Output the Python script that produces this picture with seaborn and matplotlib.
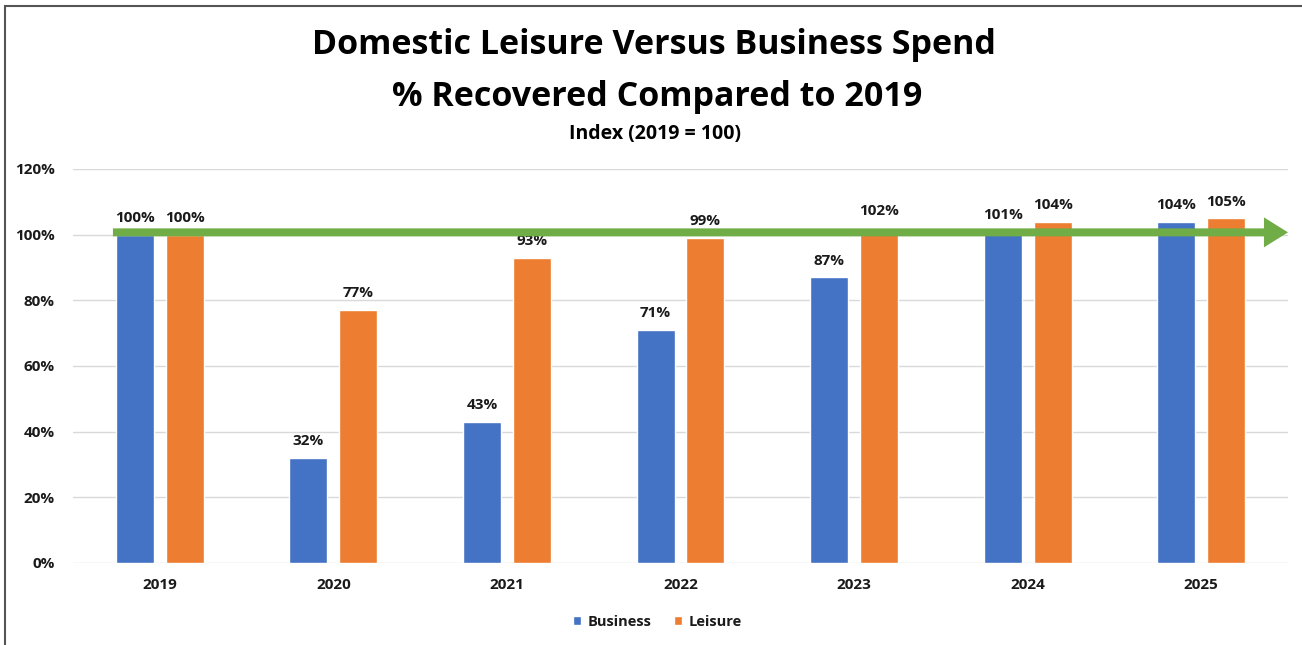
import matplotlib
matplotlib.use("Agg")
import matplotlib.pyplot as plt
from matplotlib.patches import Rectangle
import seaborn as sns
import pandas as pd

# Spend recovery index by year (2019 = 100)
years = ["2019", "2020", "2021", "2022", "2023", "2024", "2025"]
business = [100, 32, 43, 71, 87, 101, 104]
leisure = [100, 77, 93, 99, 102, 104, 105]
series_names = ["Business", "Leisure"]
y_ticks = [0, 20, 40, 60, 80, 100, 120]
baseline_level = 100.7

colors = {"Business": "#4472C4", "Leisure": "#ED7D31"}
green = "#70AD47"
text_color = "#1a1a1a"

df = pd.DataFrame({
    "Year": years * 2,
    "Series": ["Business"] * len(years) + ["Leisure"] * len(years),
    "Value": business + leisure,
})

sns.set_theme(style="white")
plt.rcParams["font.family"] = ["Open Sans", "DejaVu Sans"]

fig = plt.figure(figsize=(13.02, 6.45), dpi=100)
ax = fig.add_axes([73 / 1302, 1 - 563 / 645, (1288 - 73) / 1302, (563 - 169) / 645])

sns.barplot(data=df, x="Year", y="Value", hue="Series", hue_order=series_names,
            order=years, palette=colors, width=0.576, gap=0.24, saturation=1,
            ax=ax, legend=True)

ax.set_ylim(0, 120)
ax.set_xlim(-0.5, len(years) - 0.5)
ax.set_yticks(y_ticks)
ax.set_yticklabels([f"{t}%" for t in y_ticks], fontsize=11, fontweight="bold", color=text_color)
ax.set_xticks(range(len(years)))
ax.set_xticklabels(years, fontsize=11, fontweight="bold", color=text_color)
ax.tick_params(axis="x", length=0, pad=11)
ax.tick_params(axis="y", length=0, pad=13)
ax.set_xlabel("")
ax.set_ylabel("")
ax.yaxis.grid(True, color="#D9D9D9", linewidth=1)
ax.set_axisbelow(True)
for s in ax.spines.values():
    s.set_visible(False)

for cont in ax.containers:
    ax.bar_label(cont, labels=[f"{v:.0f}%" for v in cont.datavalues], padding=7,
                 fontsize=11, fontweight="bold", color=text_color)

# Recovery baseline arrow
ax.annotate("", xy=(len(years) - 0.5, baseline_level), xytext=(-0.27, baseline_level),
            xycoords="data", textcoords="data",
            arrowprops=dict(arrowstyle="simple,head_length=1.73,head_width=2.16,tail_width=0.576",
                            mutation_scale=10, color=green, lw=0, shrinkA=0, shrinkB=0),
            annotation_clip=False, zorder=5)

leg = ax.legend(loc="center", bbox_to_anchor=(0.481, -0.149), ncol=2, frameon=False,
                handlelength=0.55, handleheight=0.55, handletextpad=0.5, columnspacing=1.5,
                prop={"size": 10.5, "weight": "bold"})
for t in leg.get_texts():
    t.set_color(text_color)

fig.text(0.502, 1 - 45 / 645, "Domestic Leisure Versus Business Spend", ha="center", va="center",
         fontsize=24.5, fontweight="bold", color="black")
fig.text(0.505, 1 - 97 / 645, "% Recovered Compared to 2019", ha="center", va="center",
         fontsize=24.5, fontweight="bold", color="black")
fig.text(0.503, 1 - 134 / 645, "Index (2019 = 100)", ha="center", va="center",
         fontsize=14, fontweight="bold", color="black")

# Outer chart frame
fig.patches.append(Rectangle((5 / 1302, -0.05), 1.1, 1 - 6 / 645 + 0.05, transform=fig.transFigure,
                             fill=False, edgecolor="#555555", linewidth=1.5, figure=fig))

fig.savefig("out.png", dpi=100, facecolor="white")
